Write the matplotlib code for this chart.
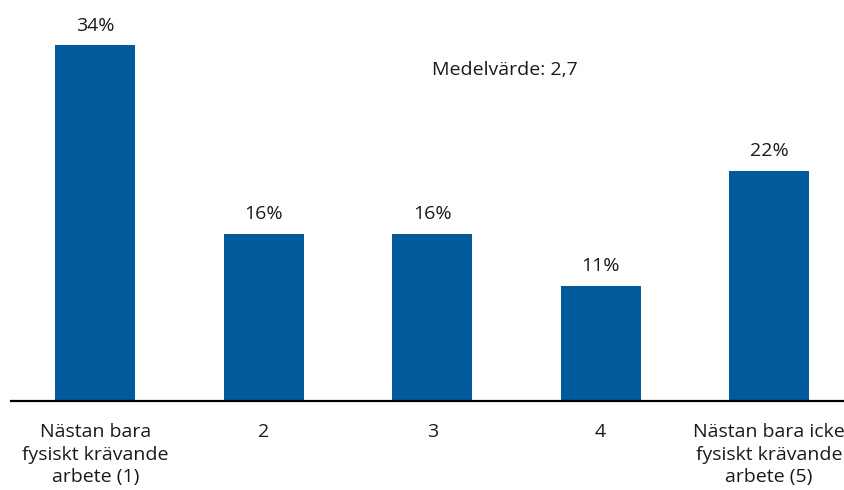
import matplotlib
matplotlib.use("Agg")
import matplotlib.pyplot as plt

# data
categories = ["Nästan bara\nfysiskt krävande\narbete (1)", "2", "3", "4",
              "Nästan bara icke\nfysiskt krävande\narbete (5)"]
values = [34, 16, 16, 11, 22]
mean_text = "Medelvärde: 2,7"

plt.rcParams['font.family'] = ['Open Sans', 'DejaVu Sans']

fig = plt.figure(figsize=(8.44, 4.90), dpi=100)
ax = fig.add_axes([11/844, (490-401)/490, 1 - 11/844, (401-10)/490])

x = list(range(len(values)))
bars = ax.bar(x, values, width=0.475, color="#005a9c")

for xi, v in zip(x, values):
    ax.text(xi, v + 1.0, f"{v}%", ha="center", va="bottom", fontsize=14, color="#1a1a1a")

ax.text(2.433, 31.6, mean_text, ha="center", va="center", fontsize=14, color="#1a1a1a")

ax.set_xlim(-0.5, 4.445)
ax.set_ylim(0, 37.35)
ax.set_xticks(x)
ax.set_xticklabels(categories, fontsize=14, color="#1a1a1a", linespacing=1.32)
ax.tick_params(axis="x", length=0, pad=16)
ax.set_yticks([])
for s in ["top", "right", "left"]:
    ax.spines[s].set_visible(False)
ax.spines["bottom"].set_linewidth(1.6)
ax.spines["bottom"].set_color("black")

fig.savefig("out.png", dpi=100)
